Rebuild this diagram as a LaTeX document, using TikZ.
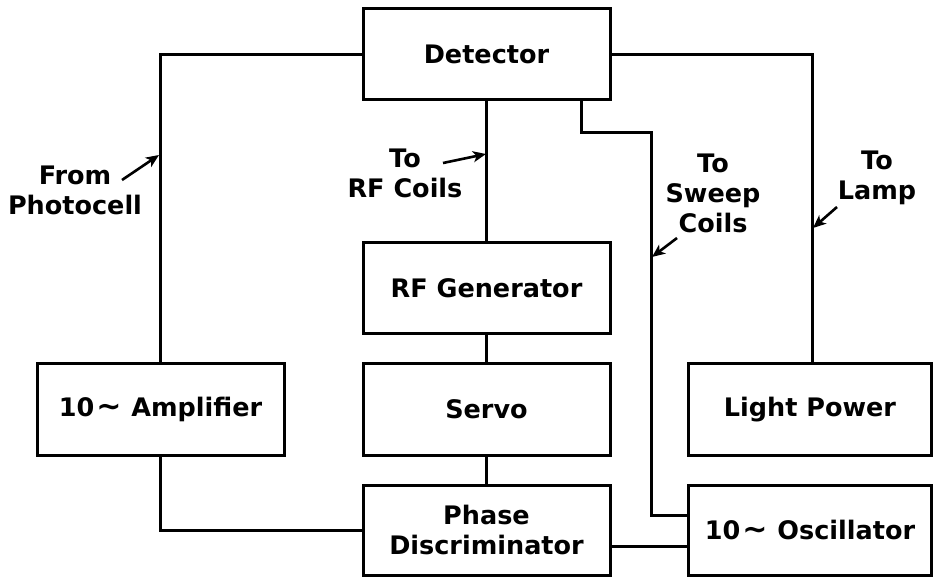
\documentclass[tikz,border=0pt]{standalone}
\usepackage{fontspec}
\setmainfont{DejaVu Sans}
\usetikzlibrary{arrows.meta}
\newcommand{\tld}{\hspace{2pt}{\fontsize{30}{30}\selectfont∼}\hspace{10pt}}
\begin{document}
\begin{tikzpicture}[x=1pt,y=-1pt,
  blk/.style={draw,line width=3pt,minimum width=247pt,minimum height=91pt,inner sep=0pt,align=center,
    font=\fontsize{25.5}{30}\selectfont\bfseries},
  lbl/.style={align=center,inner sep=0pt,font=\fontsize{25.5}{30}\selectfont\bfseries},
  wire/.style={line width=3pt},
  ptr/.style={line width=2.6pt,-{Stealth[length=13pt,width=11pt,inset=3.5pt]}}]
\useasboundingbox (0,0) rectangle (935,577);
\node[blk] (det) at (486.5,54.5) {Detector};
\node[blk] (rfg) at (486.5,288.5) {RF Generator};
\node[blk] (servo) at (486.5,409.5) {Servo};
\node[blk,minimum height=90pt] (phase) at (486.5,530) {Phase\\Discriminator};
\node[blk] (amp) at (160.5,409.5) {10\tld Amplifier};
\node[blk,minimum width=243pt] (light) at (810,409.5) {Light Power};
\node[blk,minimum width=243pt,minimum height=90pt] (osc) at (810,530) {10\tld Oscillator};
% wires
\draw[wire] (det.west) -| (amp.north);
\draw[wire] (amp.south) |- (phase.west);
\draw[wire] (det.south) -- (rfg.north);
\draw[wire] (rfg.south) -- (servo.north);
\draw[wire] (servo.south) -- (phase.north);
\coordinate (sw) at (651,133);
\draw[wire] ([xshift=-30pt]det.south east) |- (sw) |- ([yshift=15pt]osc.west);
\draw[wire] (det.east) -| ([xshift=2pt]light.north);
\draw[wire] ([yshift=-16pt]phase.east) -- ([yshift=-16pt]osc.west);
% labels
\node[lbl] (fp) at (75,190) {From\\Photocell};
\node[lbl] (rfc) at (405,173) {To\\RF Coils};
\node[lbl] (swc) at (713,193) {To\\Sweep\\Coils};
\node[lbl] (lmp) at (877,178) {To\\Lamp};
% pointers
\coordinate (fpT) at (122,180); \coordinate (fpH) at (159,155);
\coordinate (rfT) at (443,163); \coordinate (rfH) at (486,154);
\coordinate (swT) at (677,238); \coordinate (swH) at (652,257);
\coordinate (lpT) at (837,207); \coordinate (lpH) at (813,228);
\draw[ptr] (fpT) -- (fpH);
\draw[ptr] (rfT) -- (rfH);
\draw[ptr] (swT) -- (swH);
\draw[ptr] (lpT) -- (lpH);
\end{tikzpicture}
\end{document}
